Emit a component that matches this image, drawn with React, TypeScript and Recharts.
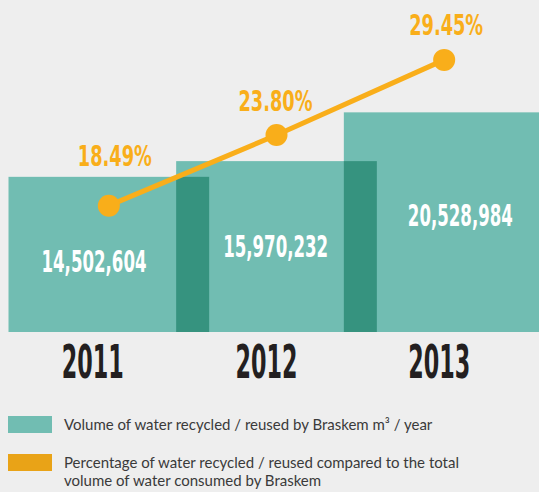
import React from "react";
import { ComposedChart, Bar, Line, XAxis, YAxis, LabelList } from "recharts";

const years = ["2011", "2012", "2013"];
const volumes = [14502604, 15970232, 20528984];
const percents = [18.49, 23.8, 29.45];

const legendVolume = "Volume of water recycled / reused by Braskem m³ / year";
const legendPercent = [
  "Percentage of water recycled / reused compared to the total",
  "volume of water consumed by Braskem",
];

const data = years.map((year, i) => ({ year, volume: volumes[i], pct: percents[i] }));

const TEAL = "#71bdb2";
const DARK = "#36937f";
const ORANGE = "#f9ae1a";
const BG = "#eeeeee";
const NARROW = "'Liberation Sans Narrow', 'DejaVu Sans Condensed', 'Arial Narrow', sans-serif";
const BAR_W = 201;

// small nudges so labels sit where the original places them
const volDx = [-15, -1, 16];
const volDy = [95, 96, 114];
const pctDx = [6, -1, 2];
const pctDy = [-40, -24, -25];
const yearDx = [-16, -10, -5];

// condensed bold text: squeezed horizontally by a transform so its box stays honest
const Squeezed = ({ x, y, w, sx, size, fill, children }: any) => (
  <text
    transform={`translate(${x},${y}) scale(${sx},1)`}
    x={0}
    y={0}
    textAnchor="middle"
    fill={fill}
    fontFamily={NARROW}
    fontWeight="bold"
    fontSize={size}
    textLength={w / sx}
    lengthAdjust="spacingAndGlyphs"
  >
    {children}
  </text>
);

const VolumeBar = (props: any) => {
  const { x, y, width, height, index } = props;
  const left = x + width / 2 - BAR_W / 2;
  let overlap = null;
  if (index > 0) {
    const h = (Math.min(volumes[index], volumes[index - 1]) * height) / volumes[index];
    overlap = (
      <rect x={left} y={y + height - h} width={BAR_W - width} height={h} fill={DARK} />
    );
  }
  return (
    <g>
      <rect x={left} y={y} width={BAR_W} height={height} fill={TEAL} />
      {overlap}
    </g>
  );
};

const VolumeLabel = (props: any) => {
  const { x, y, width, index } = props;
  return (
    <Squeezed x={x + width / 2 + volDx[index]} y={y + volDy[index]} w={105} sx={0.615} size={30} fill="#ffffff">
      {volumes[index].toLocaleString("en-US")}
    </Squeezed>
  );
};

const PctLabel = (props: any) => {
  const { x, y, index } = props;
  return (
    <Squeezed x={x + pctDx[index]} y={y + pctDy[index]} w={74} sx={0.68} size={29} fill={ORANGE}>
      {percents[index].toFixed(2) + "%"}
    </Squeezed>
  );
};

const YearTick = (props: any) => {
  const { x, y, payload, index } = props;
  return (
    <Squeezed x={x + yearDx[index]} y={y + 38} w={62} sx={0.54} size={46} fill="#231f20">
      {payload.value}
    </Squeezed>
  );
};

export default function App() {
  return (
    <div
      style={{
        position: "absolute",
        left: 0,
        top: 0,
        width: 539,
        height: 492,
        background: BG,
        overflow: "hidden",
      }}
    >
      <ComposedChart
        width={539}
        height={492}
        data={data}
        barCategoryGap={0}
        margin={{ top: 20, right: 11, left: 25, bottom: 130 }}
      >
        <XAxis
          dataKey="year"
          axisLine={false}
          tickLine={false}
          interval={0}
          tick={<YearTick />}
        />
        <YAxis yAxisId="vol" hide domain={[0, 29160000]} allowDataOverflow />
        <YAxis yAxisId="pct" hide domain={[8.99, 32.45]} allowDataOverflow />
        <Bar
          yAxisId="vol"
          dataKey="volume"
          shape={<VolumeBar />}
          isAnimationActive={false}
        >
          <LabelList dataKey="volume" content={<VolumeLabel />} />
        </Bar>
        <Line
          yAxisId="pct"
          dataKey="pct"
          type="linear"
          stroke={ORANGE}
          strokeWidth={5}
          dot={{ r: 11, fill: ORANGE, stroke: ORANGE, strokeWidth: 0 }}
          activeDot={false}
          isAnimationActive={false}
        >
          <LabelList dataKey="pct" content={<PctLabel />} />
        </Line>
      </ComposedChart>

      <div
        style={{
          position: "absolute",
          left: 0,
          top: 0,
          width: 539,
          height: 492,
          fontFamily: "Lato, sans-serif",
          fontSize: 15,
          lineHeight: "18px",
          color: "#3a3a3a",
        }}
      >
        <div style={{ position: "absolute", left: 8, top: 416, width: 44, height: 17, background: TEAL }} />
        <div style={{ position: "absolute", left: 64, top: 415, whiteSpace: "nowrap" }}>{legendVolume}</div>
        <div style={{ position: "absolute", left: 8, top: 454, width: 44, height: 17, background: "#e9a317" }} />
        <div style={{ position: "absolute", left: 64, top: 453, whiteSpace: "nowrap" }}>
          {legendPercent.map((t) => (
            <div key={t}>{t}</div>
          ))}
        </div>
      </div>
    </div>
  );
}
